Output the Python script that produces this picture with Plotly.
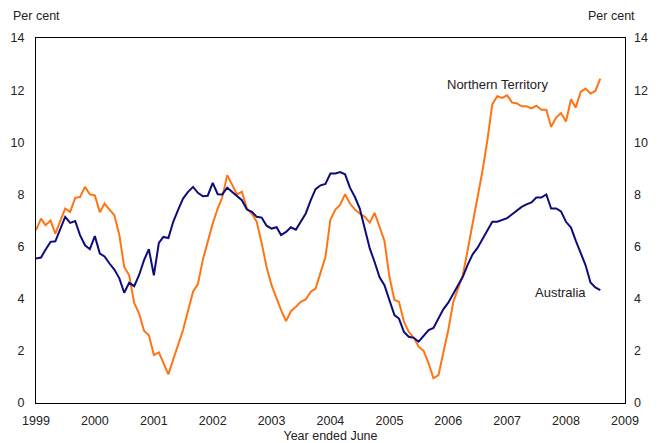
import pandas as pd
import plotly.graph_objects as go

months = pd.date_range("1999-01-01", periods=116, freq="MS")

australia = [
    5.54, 5.58, 5.88, 6.18, 6.2, 6.7, 7.14, 6.91, 6.98, 6.44, 6.05, 5.9,
    6.4, 5.73, 5.62, 5.35, 5.12, 4.78, 4.23, 4.61, 4.48, 4.9, 5.48, 5.9,
    4.9, 6.14, 6.37, 6.33, 6.95, 7.42, 7.84, 8.1, 8.29, 8.06, 7.93, 7.95,
    8.44, 8.01, 8.0, 8.26, 8.1, 7.93, 7.78, 7.42, 7.33, 7.14, 7.11, 6.8,
    6.69, 6.74, 6.44, 6.56, 6.74, 6.65, 6.95, 7.27, 7.78, 8.2, 8.35, 8.4,
    8.8, 8.8, 8.86, 8.77, 8.26, 7.9, 7.46, 6.75, 5.93, 5.41, 4.82, 4.52,
    3.95, 3.37, 3.24, 2.73, 2.54, 2.5, 2.35, 2.58, 2.8, 2.88, 3.24, 3.59,
    3.85, 4.2, 4.5, 4.84, 5.3, 5.7, 5.95, 6.3, 6.6, 6.95, 6.95, 7.03,
    7.09, 7.24, 7.37, 7.52, 7.62, 7.69, 7.88, 7.88, 8.0, 7.46, 7.46, 7.35,
    6.95, 6.73, 6.24, 5.73, 5.29, 4.62, 4.43, 4.33,
]

northern_territory = [
    6.63, 7.07, 6.82, 7.0, 6.5, 7.0, 7.46, 7.33, 7.87, 7.9, 8.29, 8.0,
    7.96, 7.32, 7.65, 7.42, 7.2, 6.44, 5.22, 4.9, 3.84, 3.44, 2.77, 2.6,
    1.84, 1.94, 1.52, 1.1, 1.67, 2.26, 2.8, 3.54, 4.27, 4.56, 5.5, 6.18,
    6.88, 7.46, 7.88, 8.74, 8.35, 8.0, 8.1, 7.46, 7.26, 6.95, 6.12, 5.22,
    4.52, 4.01, 3.56, 3.14, 3.52, 3.69, 3.88, 3.97, 4.27, 4.39, 5.03, 5.6,
    7.04, 7.42, 7.6, 8.01, 7.65, 7.42, 7.27, 7.14, 6.92, 7.29, 6.75, 6.22,
    4.84, 3.95, 3.88, 3.12, 2.73, 2.5, 2.16, 2.0, 1.52, 0.95, 1.07, 1.9,
    2.8, 3.88, 4.33, 4.9, 5.86, 6.88, 7.84, 8.9, 10.1, 11.46, 11.77, 11.7,
    11.8, 11.52, 11.5, 11.38, 11.38, 11.3, 11.4, 11.25, 11.25, 10.59, 10.95, 11.12,
    10.8, 11.65, 11.33, 11.93, 12.06, 11.87, 11.97, 12.44,
]

y_ticks = [0, 2, 4, 6, 8, 10, 12, 14]

NAVY = "#0c0c7c"
ORANGE = "#ff7414"
FONT = dict(family="Liberation Sans, Arial, sans-serif", size=12.5, color="#222")
LABEL_FONT = dict(FONT, size=13)

fig = go.Figure()
fig.add_trace(go.Scatter(x=months, y=northern_territory, mode="lines",
                         line=dict(color=ORANGE, width=2), name="Northern Territory"))
fig.add_trace(go.Scatter(x=months, y=australia, mode="lines", yaxis="y2",
                         line=dict(color=NAVY, width=2), name="Australia"))

fig.update_layout(
    width=659, height=443,
    margin=dict(l=36, r=34, t=38, b=40, autoexpand=False),
    paper_bgcolor="white", plot_bgcolor="white",
    font=FONT,
    showlegend=False,
    xaxis=dict(
        range=["1999-01-01", "2009-01-01"], tick0="1999-01-01", dtick="M12",
        tickformat="%Y", showgrid=False, zeroline=False, automargin=False,
        showline=True, mirror=True, linecolor="black", linewidth=1,
        ticks="", ticklabelstandoff=6,
        title=dict(text="Year ended June", standoff=4, font=FONT),
    ),
    yaxis=dict(
        range=[0, 14], tickvals=y_ticks, showgrid=False, zeroline=False,
        showline=True, mirror=True, linecolor="black", linewidth=1,
        ticks="", ticklabelstandoff=8, automargin=False,
    ),
    yaxis2=dict(
        range=[0, 14], tickvals=y_ticks, overlaying="y", side="right",
        showgrid=False, zeroline=False, showline=False,
        ticks="", ticklabelstandoff=8, automargin=False,
    ),
    annotations=[
        dict(text="Per cent", xref="paper", yref="paper", x=-0.042, y=1.035,
             xanchor="left", yanchor="bottom", showarrow=False, font=FONT),
        dict(text="Per cent", xref="paper", yref="paper", x=1.02, y=1.035,
             xanchor="right", yanchor="bottom", showarrow=False, font=FONT),
        dict(text="Northern Territory", x="2006-11-05", y=12.2,
             showarrow=False, font=LABEL_FONT),
        dict(text="Australia", x="2007-11-25", y=4.25,
             showarrow=False, font=LABEL_FONT),
    ],
)

# page body has an 8px default margin; drop it so the figure sits at 0,0
fig.write_html("out.html", config={"displayModeBar": False},
               post_script="document.body.style.margin = '0';")
